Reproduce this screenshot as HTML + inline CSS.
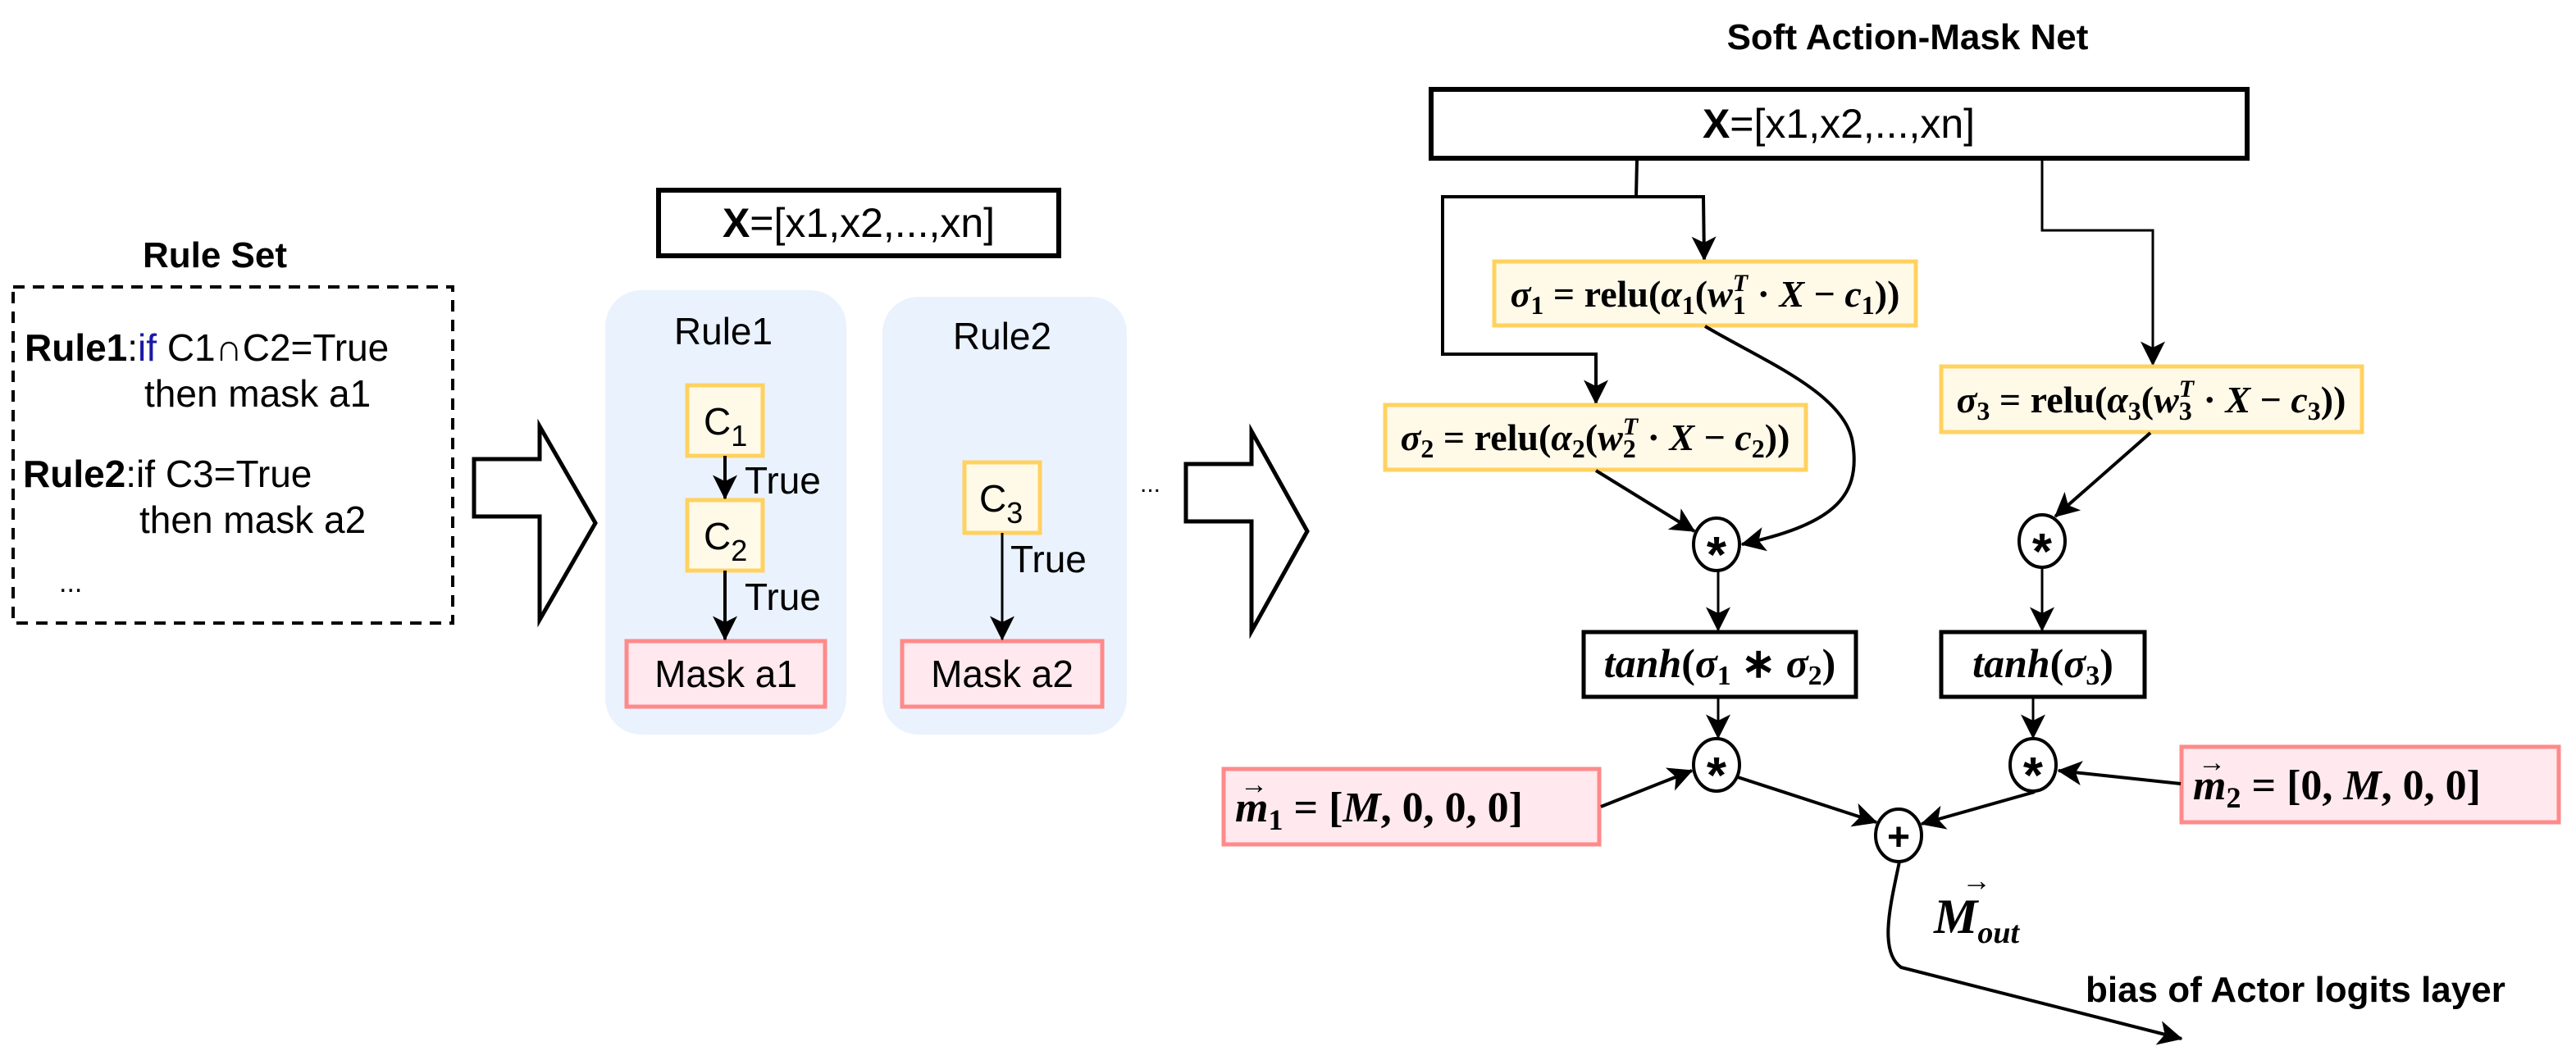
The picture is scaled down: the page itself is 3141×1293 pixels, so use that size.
<!DOCTYPE html>
<html><head><meta charset="utf-8"><style>
html,body{margin:0;padding:0;background:#fff;}
svg{display:block;}
.s{font-family:"Liberation Sans",sans-serif;}
.m{font-family:"Liberation Serif",serif;font-weight:bold;}
</style></head><body>
<svg width="3141" height="1293" viewBox="0 0 3141 1293" xmlns="http://www.w3.org/2000/svg">
<defs>
<marker id="b" viewBox="0 0 20 20" refX="19" refY="10" markerWidth="30" markerHeight="30" markerUnits="userSpaceOnUse" orient="auto">
<path d="M0,0 L20,10 L0,20 L5,10 Z" fill="#000"/></marker>
</defs>

<text x="262" y="326" class="s" font-size="44" font-weight="bold" text-anchor="middle">Rule Set</text>
<rect x="16" y="350" width="536" height="410" fill="none" stroke="#000" stroke-width="4" stroke-dasharray="14,10"/>
<text x="30" y="440" class="s" font-size="46"><tspan font-weight="bold">Rule1</tspan>:<tspan fill="#1a1aa6">if</tspan> C1∩C2=True</text>
<text x="176" y="496" class="s" font-size="46">then mask a1</text>
<text x="28" y="594" class="s" font-size="46"><tspan font-weight="bold">Rule2</tspan>:if C3=True</text>
<text x="170" y="650" class="s" font-size="46">then mask a2</text>
<text x="72" y="722" class="s" font-size="34">...</text>

<path d="M578,560 L658,560 L658,520 L726,638 L658,756 L658,630 L578,630 Z" fill="#fff" stroke="#000" stroke-width="5"/>

<rect x="803" y="232" width="488" height="80" fill="#fff" stroke="#000" stroke-width="6"/>
<text x="1047" y="289" class="s" font-size="50" text-anchor="middle"><tspan font-weight="bold">X</tspan>=[x1,x2,...,xn]</text>

<rect x="738" y="354" width="294" height="542" rx="44" fill="#eaf2fe"/>
<rect x="1076" y="362" width="298" height="534" rx="44" fill="#eaf2fe"/>
<text x="882" y="420" class="s" font-size="46" text-anchor="middle">Rule1</text>
<text x="1222" y="426" class="s" font-size="46" text-anchor="middle">Rule2</text>

<rect x="838" y="470" width="92" height="86" fill="#fff9e8" stroke="#ffd260" stroke-width="5"/>
<text x="858" y="530" class="s" font-size="46">C<tspan font-size="36" dy="14">1</tspan></text>
<rect x="838" y="610" width="92" height="86" fill="#fff9e8" stroke="#ffd260" stroke-width="5"/>
<text x="858" y="670" class="s" font-size="46">C<tspan font-size="36" dy="14">2</tspan></text>
<rect x="1176" y="564" width="92" height="86" fill="#fff9e8" stroke="#ffd260" stroke-width="5"/>
<text x="1194" y="624" class="s" font-size="46">C<tspan font-size="36" dy="14">3</tspan></text>

<rect x="764" y="782" width="242" height="80" fill="#ffe8ee" stroke="#ff8a8a" stroke-width="5"/>
<text x="885" y="838" class="s" font-size="46" text-anchor="middle">Mask a1</text>
<rect x="1100" y="782" width="244" height="80" fill="#ffe8ee" stroke="#ff8a8a" stroke-width="5"/>
<text x="1222" y="838" class="s" font-size="46" text-anchor="middle">Mask a2</text>

<line x1="884" y1="556" x2="884" y2="608" stroke="#000" stroke-width="4" marker-end="url(#b)"/>
<line x1="884" y1="696" x2="884" y2="780" stroke="#000" stroke-width="4" marker-end="url(#b)"/>
<line x1="1222" y1="650" x2="1222" y2="780" stroke="#000" stroke-width="3" marker-end="url(#b)"/>
<text x="908" y="602" class="s" font-size="46">True</text>
<text x="908" y="744" class="s" font-size="46">True</text>
<text x="1232" y="698" class="s" font-size="46">True</text>
<text x="1390" y="600" class="s" font-size="30">...</text>

<path d="M1446,566 L1526,566 L1526,526 L1594,648 L1526,770 L1526,636 L1446,636 Z" fill="#fff" stroke="#000" stroke-width="5"/>

<text x="2326" y="60" class="s" font-size="44" font-weight="bold" text-anchor="middle">Soft Action-Mask Net</text>
<rect x="1745" y="109" width="995" height="84" fill="#fff" stroke="#000" stroke-width="6"/>
<text x="2242" y="168" class="s" font-size="50" text-anchor="middle"><tspan font-weight="bold">X</tspan>=[x1,x2,...,xn]</text>

<path d="M1996,194 L1995,240 L1759,240 L1759,432 L1946,432 L1946,492" fill="none" stroke="#000" stroke-width="4" marker-end="url(#b)"/>
<path d="M1995,240 L2077,240 L2078,317" fill="none" stroke="#000" stroke-width="4" marker-end="url(#b)"/>
<path d="M2490,194 L2490,281 L2625,281 L2625,445" fill="none" stroke="#000" stroke-width="3" marker-end="url(#b)"/>

<rect x="1822" y="319" width="514" height="78" fill="#fff9e8" stroke="#ffd260" stroke-width="5"/>
<text x="2079" y="374" class="m" font-size="46" text-anchor="middle"><tspan font-style="italic">σ</tspan><tspan font-size="32" dy="9">1</tspan><tspan dy="-9"> = relu(</tspan><tspan font-style="italic">α</tspan><tspan font-size="32" dy="9">1</tspan><tspan dy="-9">(</tspan><tspan font-style="italic">w</tspan><tspan font-size="32" dy="9">1</tspan><tspan font-size="30" font-style="italic" dx="-16" dy="-28">T</tspan><tspan dy="19"> · </tspan><tspan font-style="italic">X</tspan><tspan> − </tspan><tspan font-style="italic">c</tspan><tspan font-size="32" dy="9">1</tspan><tspan dy="-9">))</tspan></text>

<rect x="1689" y="494" width="513" height="79" fill="#fff9e8" stroke="#ffd260" stroke-width="5"/>
<text x="1945" y="549" class="m" font-size="46" text-anchor="middle"><tspan font-style="italic">σ</tspan><tspan font-size="32" dy="9">2</tspan><tspan dy="-9"> = relu(</tspan><tspan font-style="italic">α</tspan><tspan font-size="32" dy="9">2</tspan><tspan dy="-9">(</tspan><tspan font-style="italic">w</tspan><tspan font-size="32" dy="9">2</tspan><tspan font-size="30" font-style="italic" dx="-16" dy="-28">T</tspan><tspan dy="19"> · </tspan><tspan font-style="italic">X</tspan><tspan> − </tspan><tspan font-style="italic">c</tspan><tspan font-size="32" dy="9">2</tspan><tspan dy="-9">))</tspan></text>

<rect x="2367" y="447" width="513" height="80" fill="#fff9e8" stroke="#ffd260" stroke-width="5"/>
<text x="2623" y="503" class="m" font-size="46" text-anchor="middle"><tspan font-style="italic">σ</tspan><tspan font-size="32" dy="9">3</tspan><tspan dy="-9"> = relu(</tspan><tspan font-style="italic">α</tspan><tspan font-size="32" dy="9">3</tspan><tspan dy="-9">(</tspan><tspan font-style="italic">w</tspan><tspan font-size="32" dy="9">3</tspan><tspan font-size="30" font-style="italic" dx="-16" dy="-28">T</tspan><tspan dy="19"> · </tspan><tspan font-style="italic">X</tspan><tspan> − </tspan><tspan font-style="italic">c</tspan><tspan font-size="32" dy="9">3</tspan><tspan dy="-9">))</tspan></text>

<line x1="1946" y1="574" x2="2066" y2="648" stroke="#000" stroke-width="4" marker-end="url(#b)"/>
<path d="M2079,398 C2150,440 2250,480 2259,540 C2270,610 2230,640 2124,664" fill="none" stroke="#000" stroke-width="4" marker-end="url(#b)"/>
<line x1="2622" y1="528" x2="2506" y2="630" stroke="#000" stroke-width="4" marker-end="url(#b)"/>

<g stroke="#000" stroke-width="4" fill="#fff">
<ellipse cx="2093" cy="664" rx="28" ry="32"/>
<ellipse cx="2490" cy="660" rx="28" ry="32"/>
<ellipse cx="2093" cy="933" rx="28" ry="32"/>
<ellipse cx="2479" cy="933" rx="28" ry="32"/>
<ellipse cx="2315" cy="1019" rx="28" ry="32"/>
</g>
<g class="s" font-size="62" font-weight="bold" text-anchor="middle">
<text x="2093" y="698">*</text>
<text x="2490" y="694">*</text>
<text x="2093" y="967">*</text>
<text x="2479" y="967">*</text>
<text x="2315" y="1037" font-size="48">+</text>
</g>

<line x1="2095" y1="696" x2="2095" y2="769" stroke="#000" stroke-width="3" marker-end="url(#b)"/>
<line x1="2490" y1="692" x2="2490" y2="769" stroke="#000" stroke-width="3" marker-end="url(#b)"/>

<rect x="1931" y="771" width="332" height="79" fill="#fff" stroke="#000" stroke-width="5"/>
<text x="2097" y="826" class="m" font-size="50" text-anchor="middle"><tspan font-style="italic">tanh</tspan>(<tspan font-style="italic">σ</tspan><tspan font-size="34" dy="9">1</tspan><tspan dy="-9"> ∗ </tspan><tspan font-style="italic">σ</tspan><tspan font-size="34" dy="9">2</tspan><tspan dy="-9">)</tspan></text>
<rect x="2367" y="771" width="248" height="79" fill="#fff" stroke="#000" stroke-width="5"/>
<text x="2491" y="826" class="m" font-size="50" text-anchor="middle"><tspan font-style="italic">tanh</tspan>(<tspan font-style="italic">σ</tspan><tspan font-size="34" dy="9">3</tspan><tspan dy="-9">)</tspan></text>

<line x1="2095" y1="851" x2="2095" y2="900" stroke="#000" stroke-width="3" marker-end="url(#b)"/>
<line x1="2479" y1="851" x2="2479" y2="900" stroke="#000" stroke-width="3" marker-end="url(#b)"/>

<rect x="1492" y="938" width="458" height="92" fill="#ffe8ee" stroke="#ff8a8a" stroke-width="5"/>
<text x="1506" y="1002" class="m" font-size="52"><tspan font-style="italic">m</tspan><tspan font-size="36" dy="10">1</tspan><tspan dy="-10"> = [</tspan><tspan font-style="italic">M</tspan>, 0, 0, 0]</text>
<text x="1512" y="968" class="m" font-size="34">→</text>
<rect x="2660" y="911" width="460" height="92" fill="#ffe8ee" stroke="#ff8a8a" stroke-width="5"/>
<text x="2674" y="975" class="m" font-size="52"><tspan font-style="italic">m</tspan><tspan font-size="36" dy="10">2</tspan><tspan dy="-10"> = [0, </tspan><tspan font-style="italic">M</tspan>, 0, 0]</text>
<text x="2680" y="941" class="m" font-size="34">→</text>

<line x1="1952" y1="984" x2="2063" y2="940" stroke="#000" stroke-width="4" marker-end="url(#b)"/>
<line x1="2659" y1="956" x2="2510" y2="940" stroke="#000" stroke-width="4" marker-end="url(#b)"/>
<line x1="2119" y1="948" x2="2288" y2="1003" stroke="#000" stroke-width="4" marker-end="url(#b)"/>
<line x1="2481" y1="966" x2="2343" y2="1005" stroke="#000" stroke-width="4" marker-end="url(#b)"/>

<path d="M2316,1051 C2306,1100 2290,1160 2318,1180 L2660,1267" fill="none" stroke="#000" stroke-width="4" marker-end="url(#b)"/>
<text x="2358" y="1138" class="m" font-size="60" font-style="italic">M<tspan font-size="38" dy="12">out</tspan></text>
<text x="2392" y="1086" class="m" font-size="36">→</text>
<text x="2543" y="1222" class="s" font-size="44" font-weight="bold">bias of Actor logits layer</text>
</svg>
</body></html>
